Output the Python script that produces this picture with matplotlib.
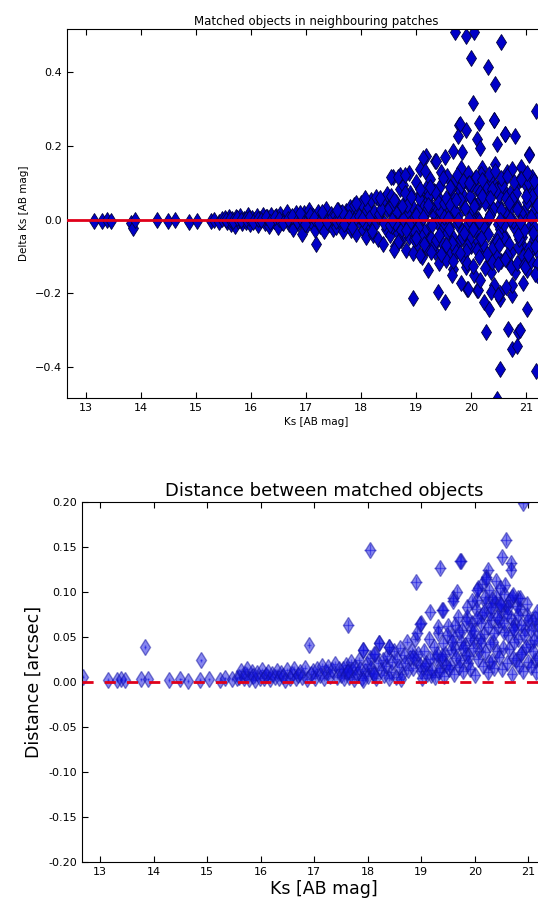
"""Delta Ks and match distance of objects found in two neighbouring patches."""

import matplotlib
matplotlib.use("Agg")
import matplotlib.pyplot as plt

OUTPUT_PLOT = "out.png"

# --- top panel: Ks difference between the two patches -------------------
ks_bright = [13.15, 13.30, 13.38, 13.45, 13.82, 13.85, 13.90, 14.30, 14.50, 14.62,
             14.88, 15.02, 15.28, 15.33, 15.42, 15.48]
dks_bright = [-0.003, -0.004, -0.002, -0.003, -0.008, -0.022, 0.000, -0.002, -0.003, 0.000,
              -0.005, -0.003, -0.004, -0.002, -0.005, 0.002]

ks_mid = [15.52, 15.56, 15.60, 15.63, 15.66, 15.70, 15.73, 15.77, 15.80, 15.84,
          15.88, 15.91, 15.95, 15.98, 16.02, 16.06, 16.10, 16.13, 16.17, 16.21,
          16.25, 16.29, 16.33, 16.37, 16.41, 16.45, 16.49, 16.53, 16.57, 16.61,
          16.65, 16.69, 16.73, 16.77, 16.81, 16.85, 16.89, 16.93, 16.97, 17.01,
          17.05, 17.09, 17.13, 17.17, 17.21, 17.25, 17.29, 17.33, 17.37, 17.41,
          17.45, 17.49,
          15.54, 15.62, 15.68, 15.75, 15.82, 15.90, 15.97, 16.04, 16.12, 16.19,
          16.27, 16.35, 16.43, 16.51, 16.59, 16.67, 16.75, 16.83, 16.91, 16.99,
          17.07, 17.15, 17.23, 17.31, 17.39, 17.47]
dks_mid = [0.004, -0.006, 0.008, -0.012, 0.002, -0.016, 0.006, -0.003, 0.011, -0.009,
           0.003, -0.007, 0.012, -0.011, 0.005, -0.002, 0.009, -0.014, 0.001, 0.013,
           -0.008, 0.007, -0.018, 0.014, -0.004, 0.010, -0.021, 0.016, -0.006, 0.008,
           0.021, -0.013, 0.004, -0.024, 0.017, -0.009, 0.012, -0.038, 0.019, -0.015,
           0.025, -0.006, 0.011, -0.028, 0.022, -0.017, 0.009, -0.031, 0.028, -0.012,
           0.016, -0.024,
           -0.001, 0.002, -0.004, 0.005, -0.002, 0.001, 0.004, -0.006, 0.003, -0.001,
           0.006, -0.005, 0.007, 0.001, -0.008, 0.003, 0.009, -0.004, 0.002, -0.011,
           0.013, 0.004, -0.009, 0.012, -0.006, 0.008]

ks_faint = [17.52, 17.55, 17.58, 17.61, 17.64, 17.67, 17.70, 17.73, 17.76, 17.79,
            17.82, 17.85, 17.88, 17.91, 17.94, 17.97, 18.00, 18.03, 18.06, 18.09,
            18.12, 18.15, 18.18, 18.21, 18.24, 18.27, 18.30, 18.33, 18.36, 18.39,
            18.42, 18.45, 18.48, 17.54, 17.60, 17.69, 17.78, 17.87, 17.96, 18.05,
            18.14, 18.23, 18.32, 18.41, 18.47, 17.65, 17.83, 18.01, 18.19, 18.37]
dks_faint = [0.012, -0.021, 0.027, -0.008, 0.018, -0.032, 0.006, 0.024, -0.015, 0.035,
             -0.027, 0.011, 0.041, -0.038, 0.019, -0.004, 0.046, -0.029, 0.014, -0.047,
             0.033, -0.012, 0.052, -0.041, 0.022, 0.061, -0.053, 0.008, 0.044, -0.066,
             0.057, -0.024, 0.069, -0.004, 0.003, -0.011, 0.007, -0.002, 0.009, -0.006,
             0.004, -0.017, 0.015, -0.009, 0.026, 0.021, -0.019, 0.001, -0.031, 0.029]

ks_deep = [18.50, 18.52, 18.54, 18.57, 18.59, 18.61, 18.63, 18.65, 18.68, 18.70,
           18.72, 18.74, 18.76, 18.78, 18.81, 18.83, 18.85, 18.87, 18.89, 18.91,
           18.93, 18.95, 18.97, 18.99, 19.01, 19.03, 19.05, 19.08, 19.10, 19.12,
           19.14, 19.16, 19.18, 19.20, 19.22, 19.24, 19.26, 19.28, 19.30, 19.32,
           19.34, 19.36, 19.38, 19.40, 19.42, 19.44, 19.46, 19.48, 18.53, 18.64,
           18.73, 18.84, 18.96, 19.06, 19.15, 19.25, 19.33, 19.43, 18.58, 18.69,
           18.80, 18.90, 19.00, 19.09, 19.19, 19.29, 19.39, 19.47, 18.62, 18.77,
           18.88, 19.04, 19.13, 19.23, 19.37, 19.45, 18.56, 18.98]
dks_deep = [0.031, -0.042, 0.065, -0.018, 0.012, -0.071, 0.048, 0.004, -0.035, 0.082,
            -0.056, 0.022, 0.094, -0.009, -0.083, 0.057, 0.015, -0.047, 0.073, -0.024,
            0.038, -0.091, 0.006, 0.101, -0.062, 0.027, -0.013, 0.069, -0.102, 0.044,
            0.011, -0.038, 0.086, -0.076, 0.053, -0.021, 0.109, -0.049, 0.018, 0.077,
            -0.088, 0.035, -0.005, 0.061, -0.118, 0.092, 0.003, -0.064, -0.015, 0.019,
            -0.027, 0.041, -0.052, 0.059, -0.031, 0.036, -0.068, 0.024, 0.045, -0.058,
            0.071, -0.006, 0.014, -0.044, 0.029, -0.015, 0.048, -0.029, -0.008, 0.002,
            -0.012, -0.020, 0.008, 0.066, -0.054, 0.130, 0.000, -0.034]

ks_limit = [19.50, 19.53, 19.57, 19.60, 19.64, 19.67, 19.71, 19.74, 19.78, 19.81,
            19.85, 19.88, 19.92, 19.95, 19.99, 20.02, 20.06, 20.09, 20.13, 20.16,
            20.20, 20.23, 20.27, 20.30, 20.34, 20.37, 20.41, 20.44, 20.48, 20.51,
            20.55, 20.58, 20.62, 20.65, 20.69, 20.72, 20.76, 20.79, 20.83, 20.86,
            20.90, 20.93, 20.97, 21.00, 21.04, 21.07, 21.11, 21.14, 21.18, 21.22,
            19.52, 19.55, 19.59, 19.62, 19.66, 19.69, 19.73, 19.76, 19.80, 19.83,
            19.87, 19.90, 19.94, 19.97, 20.01, 20.04, 20.08, 20.11, 20.15, 20.18,
            20.22, 20.25, 20.29, 20.32, 20.36, 20.39, 20.43, 20.46, 20.50, 20.53,
            20.57, 20.60, 20.64, 20.67, 20.71, 20.74, 20.78, 20.81, 20.85, 20.88,
            20.92, 20.95, 20.99, 21.02, 21.06, 21.09, 21.13, 21.16, 21.20, 21.23,
            19.51, 19.56, 19.61, 19.65, 19.70, 19.75, 19.79, 19.84, 19.89, 19.93,
            19.98, 20.03, 20.07, 20.12, 20.17, 20.21, 20.26, 20.31, 20.35, 20.40,
            20.45, 20.49, 20.54, 20.59, 20.63, 20.68, 20.73, 20.77, 20.82, 20.87,
            20.91, 20.96, 21.01, 21.05, 21.10, 21.15, 21.19, 21.24,
            19.54, 19.63, 19.72, 19.82, 19.91, 20.00, 20.10, 20.19, 20.28, 20.38,
            20.47, 20.56, 20.66, 20.75, 20.84, 20.94, 21.03, 21.12, 21.21, 19.58,
            19.77, 19.96, 20.14, 20.33, 20.52, 20.70, 20.89, 21.08]
dks_limit = [0.045, -0.082, 0.118, -0.021, 0.067, -0.135, 0.009, 0.092, -0.058, 0.141,
             -0.104, 0.033, -0.015, 0.126, -0.071, 0.054, -0.149, 0.087, 0.002, -0.093,
             0.139, -0.037, 0.071, -0.122, 0.016, 0.104, -0.064, 0.151, -0.011, 0.039,
             -0.113, 0.082, -0.046, 0.128, 0.005, -0.087, 0.061, -0.142, 0.097, -0.028,
             0.143, -0.069, 0.024, -0.108, 0.074, -0.018, 0.115, -0.053, 0.036, -0.091,
             -0.012, 0.058, -0.097, 0.026, -0.044, 0.101, -0.076, 0.013, 0.079, -0.031,
             0.062, -0.128, 0.098, -0.052, 0.019, -0.007, 0.112, -0.039, 0.049, 0.124,
             -0.067, 0.088, -0.004, 0.046, -0.141, 0.029, 0.091, -0.097, 0.068, -0.025,
             0.103, -0.051, 0.017, -0.116, 0.072, 0.136, -0.019, 0.043, -0.074, 0.111,
             -0.046, 0.007, 0.095, -0.136, 0.052, -0.083, 0.021, 0.086, -0.064, 0.012,
             0.008, -0.035, 0.041, -0.062, 0.023, -0.009, 0.055, -0.048, 0.031, -0.071,
             0.064, -0.026, 0.037, -0.058, 0.074, -0.017, 0.046, -0.039, 0.012, -0.073,
             0.081, -0.044, 0.027, -0.011, 0.059, -0.066, 0.034, -0.003, 0.071, -0.052,
             0.018, -0.029, 0.049, -0.077, 0.063, -0.021, 0.039, -0.055,
             -0.068, 0.085, -0.089, 0.092, -0.084, 0.096, -0.081, 0.063, -0.092, 0.083,
             -0.058, 0.094, -0.095, 0.056, 0.028, -0.099, 0.102, -0.036, 0.081, 0.004,
             -0.002, 0.001, -0.003, 0.006, -0.001, 0.003, -0.005, 0.007]

# extra faint sources filling the dense cloud
ks_fill = [18.60, 18.67, 18.74, 18.82, 18.91, 18.99, 19.07, 19.14, 19.21, 19.28,
           19.35, 19.41, 19.49, 19.55, 19.62, 19.68, 19.74, 19.80, 19.86, 19.92,
           19.97, 20.03, 20.09, 20.14, 20.20, 20.26, 20.32, 20.38, 20.43, 20.49,
           20.55, 20.61, 20.66, 20.72, 20.78, 20.84, 20.90, 20.96, 21.02, 21.08,
           21.14, 21.20, 19.60, 19.73, 19.88, 20.05, 20.18, 20.35, 20.50, 20.68,
           20.85, 21.00, 21.17, 19.25, 19.45]
dks_fill = [0.052, -0.061, 0.036, -0.028, 0.062, -0.049, 0.083, -0.067, 0.041, -0.087,
            0.075, -0.042, 0.112, -0.109, 0.089, -0.113, 0.121, -0.091, 0.106, -0.118,
            0.099, -0.125, 0.117, -0.101, 0.108, -0.131, 0.123, -0.114, 0.131, -0.121,
            0.114, -0.107, 0.119, -0.128, 0.101, -0.118, 0.109, -0.124, 0.126, -0.112,
            0.104, -0.119, -0.026, 0.052, -0.036, 0.038, -0.049, 0.058, -0.069, 0.046,
            -0.041, 0.063, -0.072, 0.088, -0.092]

# scattered outliers above and below the line
ks_high = [19.71, 19.91, 20.06, 20.54, 20.00, 20.31, 20.44, 20.04, 21.18, 20.41,
           20.15, 19.78, 19.91, 19.76, 20.10, 20.61, 20.79, 20.47, 20.16, 21.05,
           19.18, 19.12, 19.35, 19.53, 19.67, 19.83, 19.07, 18.71, 18.58, 18.88,
           19.16, 19.36, 18.54, 18.68, 18.80, 18.35, 18.07, 17.91, 17.56, 17.29,
           16.89, 19.80, 20.42, 20.62, 21.06]
dks_high = [0.510, 0.498, 0.509, 0.482, 0.438, 0.413, 0.367, 0.316, 0.294, 0.270,
            0.261, 0.256, 0.243, 0.226, 0.218, 0.232, 0.226, 0.204, 0.194, 0.178,
            0.172, 0.167, 0.158, 0.171, 0.185, 0.183, 0.136, 0.120, 0.117, 0.126,
            0.133, 0.160, 0.117, 0.117, 0.122, 0.058, 0.058, 0.044, 0.027, 0.022,
            0.017, 0.258, 0.271, 0.232, 0.176]
ks_low = [17.19, 18.94, 19.39, 19.53, 20.27, 20.67, 20.86, 20.74, 20.83, 20.53,
          20.47, 21.02, 21.18, 20.23, 20.32, 20.52, 20.53, 20.75, 20.75, 20.95,
          21.04, 21.19, 20.10, 19.92, 19.82, 19.65, 20.41, 20.64, 18.59, 19.07,
          19.22, 19.95, 20.12, 20.16, 20.37, 20.49, 20.88, 20.98, 21.16]
dks_low = [-0.067, -0.212, -0.196, -0.223, -0.305, -0.296, -0.305, -0.350, -0.343, -0.405,
           -0.486, -0.241, -0.410, -0.223, -0.242, -0.216, -0.200, -0.205, -0.178, -0.173,
           -0.096, -0.150, -0.191, -0.187, -0.173, -0.150, -0.178, -0.182, -0.083, -0.096,
           -0.137, -0.189, -0.191, -0.164, -0.196, -0.205, -0.300, -0.128, -0.146]

# --- bottom panel: separation of the matched pairs -----------------------
ks_d_bright = [12.68, 13.14, 13.31, 13.39, 13.46, 13.76, 13.84, 13.89, 14.28, 14.50,
               14.64, 14.86, 14.88, 15.03, 15.24, 15.33, 15.46, 15.56]
dist_bright = [0.006, 0.002, 0.002, 0.003, 0.002, 0.003, 0.039, 0.003, 0.002, 0.003,
               0.001, 0.002, 0.024, 0.003, 0.002, 0.004, 0.003, 0.004]

ks_d_mid = [15.60, 15.64, 15.68, 15.71, 15.75, 15.79, 15.83, 15.86, 15.90, 15.94,
            15.98, 16.02, 16.06, 16.10, 16.14, 16.18, 16.22, 16.26, 16.30, 16.34,
            16.38, 16.42, 16.46, 16.50, 16.54, 16.58, 16.62, 16.66, 16.70, 16.74,
            16.78, 16.82, 16.86, 16.90, 16.94, 16.98, 17.02, 17.06, 17.10, 17.14,
            17.18, 17.22, 17.26, 17.30, 17.34, 17.38, 17.42, 17.46]
dist_mid = [0.006, 0.012, 0.004, 0.009, 0.014, 0.003, 0.011, 0.007, 0.002, 0.010,
            0.005, 0.013, 0.004, 0.008, 0.011, 0.003, 0.009, 0.006, 0.012, 0.004,
            0.010, 0.007, 0.002, 0.013, 0.005, 0.009, 0.015, 0.004, 0.008, 0.011,
            0.006, 0.016, 0.003, 0.041, 0.009, 0.012, 0.005, 0.014, 0.008, 0.018,
            0.004, 0.011, 0.017, 0.007, 0.013, 0.020, 0.006, 0.015]

ks_d_faint = [17.50, 17.53, 17.56, 17.59, 17.62, 17.65, 17.68, 17.71, 17.74, 17.77,
              17.80, 17.83, 17.86, 17.89, 17.92, 17.95, 17.98, 18.01, 18.04, 18.07,
              18.10, 18.13, 18.16, 18.19, 18.22, 18.25, 18.28, 18.31, 18.34, 18.37,
              18.40, 18.43, 18.46, 18.49, 18.52, 18.55, 18.58, 18.61, 18.64, 18.67,
              18.70, 18.73, 18.76, 18.79, 18.82, 18.85, 18.88, 18.91, 18.94, 18.97,
              17.64, 17.92, 18.12, 18.40, 18.62, 18.84]
dist_faint = [0.008, 0.015, 0.004, 0.019, 0.011, 0.006, 0.022, 0.013, 0.003, 0.017,
              0.009, 0.024, 0.014, 0.005, 0.036, 0.012, 0.020, 0.007, 0.027, 0.016,
              0.010, 0.031, 0.004, 0.021, 0.043, 0.013, 0.025, 0.008, 0.018, 0.029,
              0.039, 0.011, 0.022, 0.034, 0.006, 0.026, 0.017, 0.038, 0.009, 0.030,
              0.021, 0.045, 0.013, 0.027, 0.035, 0.016, 0.048, 0.024, 0.031, 0.019,
              0.012, 0.002, 0.009, 0.005, 0.003, 0.028]

ks_d_limit = [19.00, 19.05, 19.09, 19.14, 19.18, 19.23, 19.27, 19.32, 19.36, 19.41,
              19.45, 19.50, 19.54, 19.59, 19.63, 19.68, 19.72, 19.77, 19.81, 19.86,
              19.90, 19.95, 19.99, 20.04, 20.08, 20.13, 20.17, 20.22, 20.26, 20.31,
              20.35, 20.40, 20.44, 20.49, 20.53, 20.58, 20.62, 20.67, 20.71, 20.76,
              20.80, 20.85, 20.89, 20.94, 20.98, 21.03, 21.07, 21.12, 21.16, 21.21,
              19.02, 19.07, 19.11, 19.16, 19.20, 19.25, 19.29, 19.34, 19.38, 19.43,
              19.47, 19.52, 19.56, 19.61, 19.65, 19.70, 19.74, 19.79, 19.83, 19.88,
              19.92, 19.97, 20.01, 20.06, 20.10, 20.15, 20.19, 20.24, 20.28, 20.33,
              20.37, 20.42, 20.46, 20.51, 20.55, 20.60, 20.64, 20.69, 20.73, 20.78,
              20.82, 20.87, 20.91, 20.96, 21.00, 21.05, 21.09, 21.14, 21.18, 21.23,
              19.85, 19.93, 20.02, 20.11, 20.20, 20.29, 20.38, 20.46, 20.55, 20.63,
              20.72, 20.80, 20.14, 20.33, 20.50,
              19.31, 19.39, 19.48, 19.57, 19.64, 19.71, 19.78, 19.84, 19.91, 19.98,
              20.05, 20.12, 20.18, 20.24, 20.30, 20.36, 20.42, 20.48, 20.54, 20.61,
              20.66, 20.74, 20.79, 20.86, 20.92, 20.99, 21.06, 21.11, 21.19, 20.27,
              20.40, 20.57, 20.70, 20.97, 21.13, 19.95]
dist_limit = [0.012, 0.035, 0.021, 0.048, 0.008, 0.039, 0.027, 0.055, 0.016, 0.043,
              0.031, 0.062, 0.019, 0.051, 0.037, 0.072, 0.024, 0.058, 0.041, 0.083,
              0.029, 0.066, 0.047, 0.091, 0.034, 0.074, 0.053, 0.088, 0.022, 0.069,
              0.045, 0.095, 0.061, 0.079, 0.038, 0.085, 0.052, 0.071, 0.027, 0.064,
              0.048, 0.081, 0.033, 0.059, 0.075, 0.042, 0.068, 0.025, 0.057, 0.046,
              0.004, 0.018, 0.009, 0.026, 0.013, 0.006, 0.031, 0.011, 0.024, 0.007,
              0.019, 0.014, 0.036, 0.009, 0.027, 0.017, 0.044, 0.012, 0.030, 0.021,
              0.015, 0.038, 0.008, 0.026, 0.049, 0.018, 0.033, 0.011, 0.042, 0.023,
              0.016, 0.035, 0.028, 0.014, 0.056, 0.021, 0.037, 0.009, 0.044, 0.025,
              0.018, 0.031, 0.012, 0.039, 0.022, 0.017, 0.034, 0.011, 0.027, 0.020,
              0.072, 0.058, 0.081, 0.066, 0.094, 0.077, 0.088, 0.069, 0.098, 0.083,
              0.061, 0.074, 0.109, 0.092, 0.086,
              0.061, 0.029, 0.052, 0.044, 0.063, 0.056, 0.038, 0.068, 0.049, 0.057,
              0.071, 0.043, 0.078, 0.061, 0.083, 0.055, 0.072, 0.087, 0.066, 0.076,
              0.091, 0.058, 0.084, 0.063, 0.052, 0.069, 0.058, 0.047, 0.065, 0.102,
              0.112, 0.108, 0.095, 0.087, 0.071, 0.090]

ks_d_out = [18.22, 18.40, 17.92, 18.12, 18.99, 18.92, 18.90, 19.35, 19.74, 19.16,
            19.38, 20.59, 20.51, 20.68, 20.67, 20.91, 20.25, 20.22, 19.66, 19.60,
            20.07, 20.47, 20.81, 20.21, 19.73, 19.59, 20.04, 20.85, 19.41, 18.98,
            20.72, 21.16, 18.04, 17.64]
dist_out = [0.043, 0.039, 0.036, 0.031, 0.066, 0.054, 0.111, 0.127, 0.135, 0.078,
            0.080, 0.158, 0.139, 0.132, 0.124, 0.199, 0.124, 0.117, 0.100, 0.093,
            0.104, 0.104, 0.093, 0.115, 0.134, 0.090, 0.102, 0.093, 0.080, 0.065,
            0.097, 0.078, 0.147, 0.063]

# typical errors per group (mag, arcsec)
KS_ERR = {"bright": 0.02, "mid": 0.04, "faint": 0.06, "limit": 0.09, "out": 0.11}
DIST_ERR = {"bright": 0.002, "mid": 0.003, "faint": 0.004, "limit": 0.006, "out": 0.006}


def main() -> None:
    plt.rcParams["font.family"] = "DejaVu Sans"
    plt.rcParams["xtick.direction"] = "in"
    plt.rcParams["ytick.direction"] = "in"
    plt.rcParams["xtick.top"] = True
    plt.rcParams["ytick.right"] = True
    plt.rcParams["xtick.major.size"] = 4
    plt.rcParams["ytick.major.size"] = 4

    fig = plt.figure(figsize=(5.38, 9.05), dpi=100)

    # --- top --------------------------------------------------------------
    ax1 = fig.add_axes([0.1245, 0.560, 0.925, 0.408])
    top_groups = [(ks_bright, dks_bright), (ks_mid, dks_mid), (ks_faint, dks_faint),
                  (ks_deep, dks_deep), (ks_limit, dks_limit), (ks_fill, dks_fill),
                  (ks_high, dks_high), (ks_low, dks_low)]
    for ks, dks in top_groups:
        ax1.plot(ks, dks, "d", color="#0000c8", mec="#000040", mew=0.6, ms=8.5)
    ax1.axhline(0.0, color="#e0001a", lw=2, zorder=5)
    ax1.set_xlim(12.655, 21.7)
    ax1.set_ylim(-0.484, 0.517)
    ax1.set_xticks(range(13, 22))
    ax1.set_yticks([-0.4, -0.2, 0.0, 0.2, 0.4])
    ax1.tick_params(labelsize=8)
    ax1.set_title("Matched objects in neighbouring patches", fontsize=8.5, pad=3)
    ax1.set_xlabel("Ks [AB mag]", fontsize=7.5, labelpad=3)
    ax1.set_ylabel("Delta Ks [AB mag]", fontsize=7.5, labelpad=4)

    # --- bottom -----------------------------------------------------------
    ax2 = fig.add_axes([0.1524, 0.0475, 0.899, 0.3978])
    bottom_groups = [
        (ks_d_bright, dist_bright, "bright"), (ks_d_mid, dist_mid, "mid"),
        (ks_d_faint, dist_faint, "faint"), (ks_d_limit, dist_limit, "limit"),
        (ks_d_out, dist_out, "out"),
    ]
    for ks, dist, key in bottom_groups:
        ax2.errorbar(ks, dist, xerr=KS_ERR[key], yerr=DIST_ERR[key], fmt="d",
                     color="#1010e0", mec="#1010a0", ms=8, elinewidth=1,
                     capsize=0, alpha=0.5)
    ax2.axhline(0.0, color="#e0001a", lw=2, ls="--", dashes=(4, 4), zorder=5)
    ax2.set_xlim(12.66, 21.7)
    ax2.set_ylim(-0.2, 0.2)
    ax2.set_xticks(range(13, 22))
    ax2.set_yticks([-0.2, -0.15, -0.1, -0.05, 0.0, 0.05, 0.1, 0.15, 0.2])
    ax2.yaxis.set_major_formatter(matplotlib.ticker.FormatStrFormatter("%.2f"))
    ax2.tick_params(labelsize=8)
    ax2.set_title("Distance between matched objects", fontsize=13, pad=4)
    ax2.set_xlabel("Ks [AB mag]", fontsize=12.5, labelpad=2)
    ax2.set_ylabel("Distance [arcsec]", fontsize=12.5, labelpad=4)

    fig.savefig(OUTPUT_PLOT, dpi=100)


if __name__ == "__main__":
    main()
